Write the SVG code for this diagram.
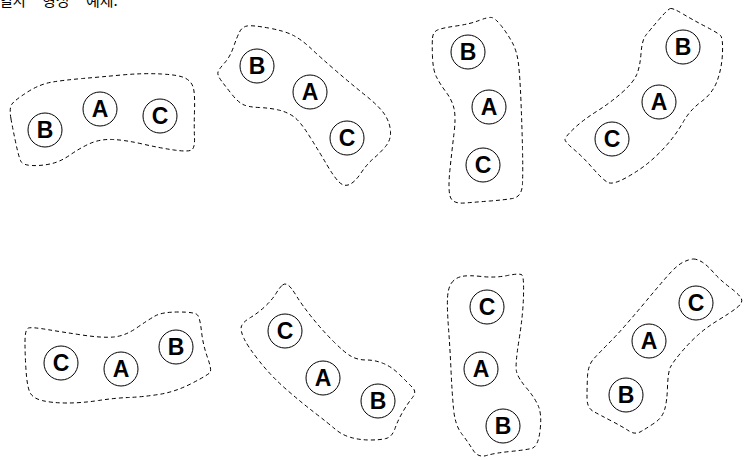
<svg xmlns="http://www.w3.org/2000/svg" width="745" height="460" viewBox="0 0 745 460">
<style>
.blob{fill:none;stroke:#000;stroke-width:1;stroke-dasharray:4 3}
.n circle{fill:#fff;stroke:#000;stroke-width:1}
.n text{font-family:"Liberation Sans",Arial,sans-serif;font-weight:bold;font-size:23px;text-anchor:middle;fill:#000}
.title{font-family:"Noto Sans CJK KR","Noto Sans",sans-serif;font-size:15px;fill:#000}
</style>
<rect width="745" height="460" fill="#fff"/>
<text class="title" y="6"><tspan x="-1">열차</tspan><tspan x="42">형성</tspan><tspan x="86">예제.</tspan></text>
<g id="connectors">
<path class="blob" d="M11,119 Q9,108 12,104 Q15,100 27.5,92 Q40,84 52.5,82 Q65,80 82.5,78.5 Q100,77 121.5,75 Q143,73 161.5,74 Q180,75 186,78.5 Q192,82 193.5,88.5 Q195,95 194.5,111 Q194,127 194.5,137.5 Q195,148 191.5,150 Q188,152 174,150 Q160,148 142.5,144 Q125,140 112.5,139.5 Q100,139 90,143.5 Q80,148 70,155 Q60,162 50,164 Q40,166 31.5,165.5 Q23,165 21,161.5 Q19,158 16,144 Q13,130 11,119 Z"/>
<path class="blob" d="M239.5,32 Q242,27 247,26 Q252,25 268.5,28 Q285,31 293.5,35.5 Q302,40 311,48.5 Q320,57 335,70 Q350,83 365,95 Q380,107 385,115 Q390,123 390.5,131.5 Q391,140 385.5,146.5 Q380,153 373.5,158.5 Q367,164 361,173 Q355,182 349.5,184.5 Q344,187 339,182 Q334,177 327,165 Q320,153 310,137 Q300,121 293.5,116.5 Q287,112 278.5,110 Q270,108 259,107.5 Q248,107 243,104.5 Q238,102 232,94.5 Q226,87 221.5,81 Q217,75 218,72 Q219,69 224.5,63 Q230,57 233.5,47 Q237,37 239.5,32 Z"/>
<path class="blob" d="M432.5,38 Q433,32 437.5,30 Q442,28 456,26 Q470,24 479,20.5 Q488,17 491.5,17.5 Q495,18 501,25.5 Q507,33 512,42 Q517,51 518.5,64 Q520,77 521,102 Q522,127 522.5,148.5 Q523,170 522.5,183.5 Q522,197 512.5,198.5 Q503,200 490,201 Q477,202 464.5,203 Q452,204 450,196 Q448,188 450,169 Q452,150 454,133.5 Q456,117 454,108.5 Q452,100 446,92 Q440,84 436.5,77 Q433,70 432.5,57 Q432,44 432.5,38 Z"/>
<path class="blob" d="M670.5,8.5 Q673,8 683,14 Q693,20 705.5,26.5 Q718,33 720.5,35.5 Q723,38 722.5,52.5 Q722,67 717.5,80 Q713,93 701.5,101.5 Q690,110 683.5,121.5 Q677,133 668.5,143 Q660,153 650,161.5 Q640,170 626.5,177.5 Q613,185 608,182.5 Q603,180 593,168.5 Q583,157 574,149.5 Q565,142 565,139.5 Q565,137 574,128.5 Q583,120 596.5,111.5 Q610,103 621.5,93 Q633,83 636.5,75 Q640,67 641,53.5 Q642,40 646,35 Q650,30 659,19.5 Q668,9 670.5,8.5 Z"/>
<path class="blob" d="M25,342 Q25,329 28.5,328 Q32,327 47,329.5 Q62,332 82,335 Q102,338 113.5,337 Q125,336 136.5,328 Q148,320 155,316 Q162,312 178.5,312 Q195,312 197.5,315 Q200,318 201.5,331.5 Q203,345 207.5,357.5 Q212,370 210,372.5 Q208,375 191.5,383.5 Q175,392 158.5,394.5 Q142,397 128.5,397.5 Q115,398 98.5,400.5 Q82,403 67,403 Q52,403 42,400.5 Q32,398 29.5,391.5 Q27,385 26,370 Q25,355 25,342 Z"/>
<path class="blob" d="M282.5,285 Q285,283 288,285 Q291,287 296.5,296 Q302,305 312,317.5 Q322,330 333.5,341.5 Q345,353 351.5,356.5 Q358,360 366.5,360 Q375,360 383.5,363.5 Q392,367 400,375 Q408,383 412.5,387.5 Q417,392 412.5,397.5 Q408,403 403,411.5 Q398,420 395,428.5 Q392,437 386,438.5 Q380,440 370,440 Q360,440 351,437.5 Q342,435 335,429 Q328,423 315,413 Q302,403 287,390 Q272,377 260,362 Q248,347 244,338.5 Q240,330 241.5,326 Q243,322 250.5,317.5 Q258,313 265,306.5 Q272,300 276,293.5 Q280,287 282.5,285 Z"/>
<path class="blob" d="M451.5,283 Q455,278 461.5,276.5 Q468,275 481.5,276.5 Q495,278 507.5,275.5 Q520,273 522,275 Q524,277 523.5,296 Q523,315 519,340 Q515,365 516.5,371.5 Q518,378 526.5,388 Q535,398 538.5,406.5 Q542,415 540,431 Q538,447 531.5,448.5 Q525,450 510,451.5 Q495,453 486.5,455.5 Q478,458 473,450 Q468,442 461.5,433.5 Q455,425 453.5,408.5 Q452,392 451,370 Q450,348 448.5,328 Q447,308 447.5,298 Q448,288 451.5,283 Z"/>
<path class="blob" d="M693.5,259 Q697,259 702,262 Q707,265 713.5,272.5 Q720,280 730,287.5 Q740,295 741.5,299 Q743,303 736.5,308 Q730,313 718.5,320 Q707,327 698.5,334.5 Q690,342 681.5,352 Q673,362 670.5,367 Q668,372 667.5,387 Q667,402 664.5,410 Q662,418 654.5,423 Q647,428 641,431.5 Q635,435 629,431 Q623,427 611.5,421 Q600,415 593.5,411.5 Q587,408 587,398 Q587,388 587.5,376.5 Q588,365 594,358.5 Q600,352 608.5,343.5 Q617,335 627,323.5 Q637,312 647,300 Q657,288 667,276.5 Q677,265 683.5,262 Q690,259 693.5,259 Z"/>
</g>
<g id="g1B" class="n"><circle cx="45" cy="130" r="17"/><text x="45" y="138">B</text></g>
<g id="g1A" class="n"><circle cx="100" cy="109" r="17"/><text x="100" y="117">A</text></g>
<g id="g1C" class="n"><circle cx="160" cy="116" r="17"/><text x="160" y="124">C</text></g>
<g id="g2B" class="n"><circle cx="257" cy="66" r="17"/><text x="257" y="74">B</text></g>
<g id="g2A" class="n"><circle cx="310" cy="92" r="17"/><text x="310" y="100">A</text></g>
<g id="g2C" class="n"><circle cx="347" cy="138" r="17"/><text x="347" y="146">C</text></g>
<g id="g3B" class="n"><circle cx="468" cy="52" r="17"/><text x="468" y="60">B</text></g>
<g id="g3A" class="n"><circle cx="489" cy="107" r="17"/><text x="489" y="115">A</text></g>
<g id="g3C" class="n"><circle cx="483" cy="165" r="17"/><text x="483" y="173">C</text></g>
<g id="g4B" class="n"><circle cx="683" cy="47" r="17"/><text x="683" y="55">B</text></g>
<g id="g4A" class="n"><circle cx="659" cy="102" r="17"/><text x="659" y="110">A</text></g>
<g id="g4C" class="n"><circle cx="612" cy="139" r="17"/><text x="612" y="147">C</text></g>
<g id="g5C" class="n"><circle cx="61" cy="363" r="17"/><text x="61" y="371">C</text></g>
<g id="g5A" class="n"><circle cx="121" cy="369" r="17"/><text x="121" y="377">A</text></g>
<g id="g5B" class="n"><circle cx="176" cy="347" r="17"/><text x="176" y="355">B</text></g>
<g id="g6C" class="n"><circle cx="285" cy="331" r="17"/><text x="285" y="339">C</text></g>
<g id="g6A" class="n"><circle cx="323" cy="378" r="17"/><text x="323" y="386">A</text></g>
<g id="g6B" class="n"><circle cx="378" cy="401" r="17"/><text x="378" y="409">B</text></g>
<g id="g7C" class="n"><circle cx="487" cy="307" r="17"/><text x="487" y="315">C</text></g>
<g id="g7A" class="n"><circle cx="481" cy="369" r="17"/><text x="481" y="377">A</text></g>
<g id="g7B" class="n"><circle cx="503" cy="426" r="17"/><text x="503" y="434">B</text></g>
<g id="g8C" class="n"><circle cx="696" cy="303" r="17"/><text x="696" y="311">C</text></g>
<g id="g8A" class="n"><circle cx="649" cy="341" r="17"/><text x="649" y="349">A</text></g>
<g id="g8B" class="n"><circle cx="626" cy="395" r="17"/><text x="626" y="403">B</text></g>
</svg>
